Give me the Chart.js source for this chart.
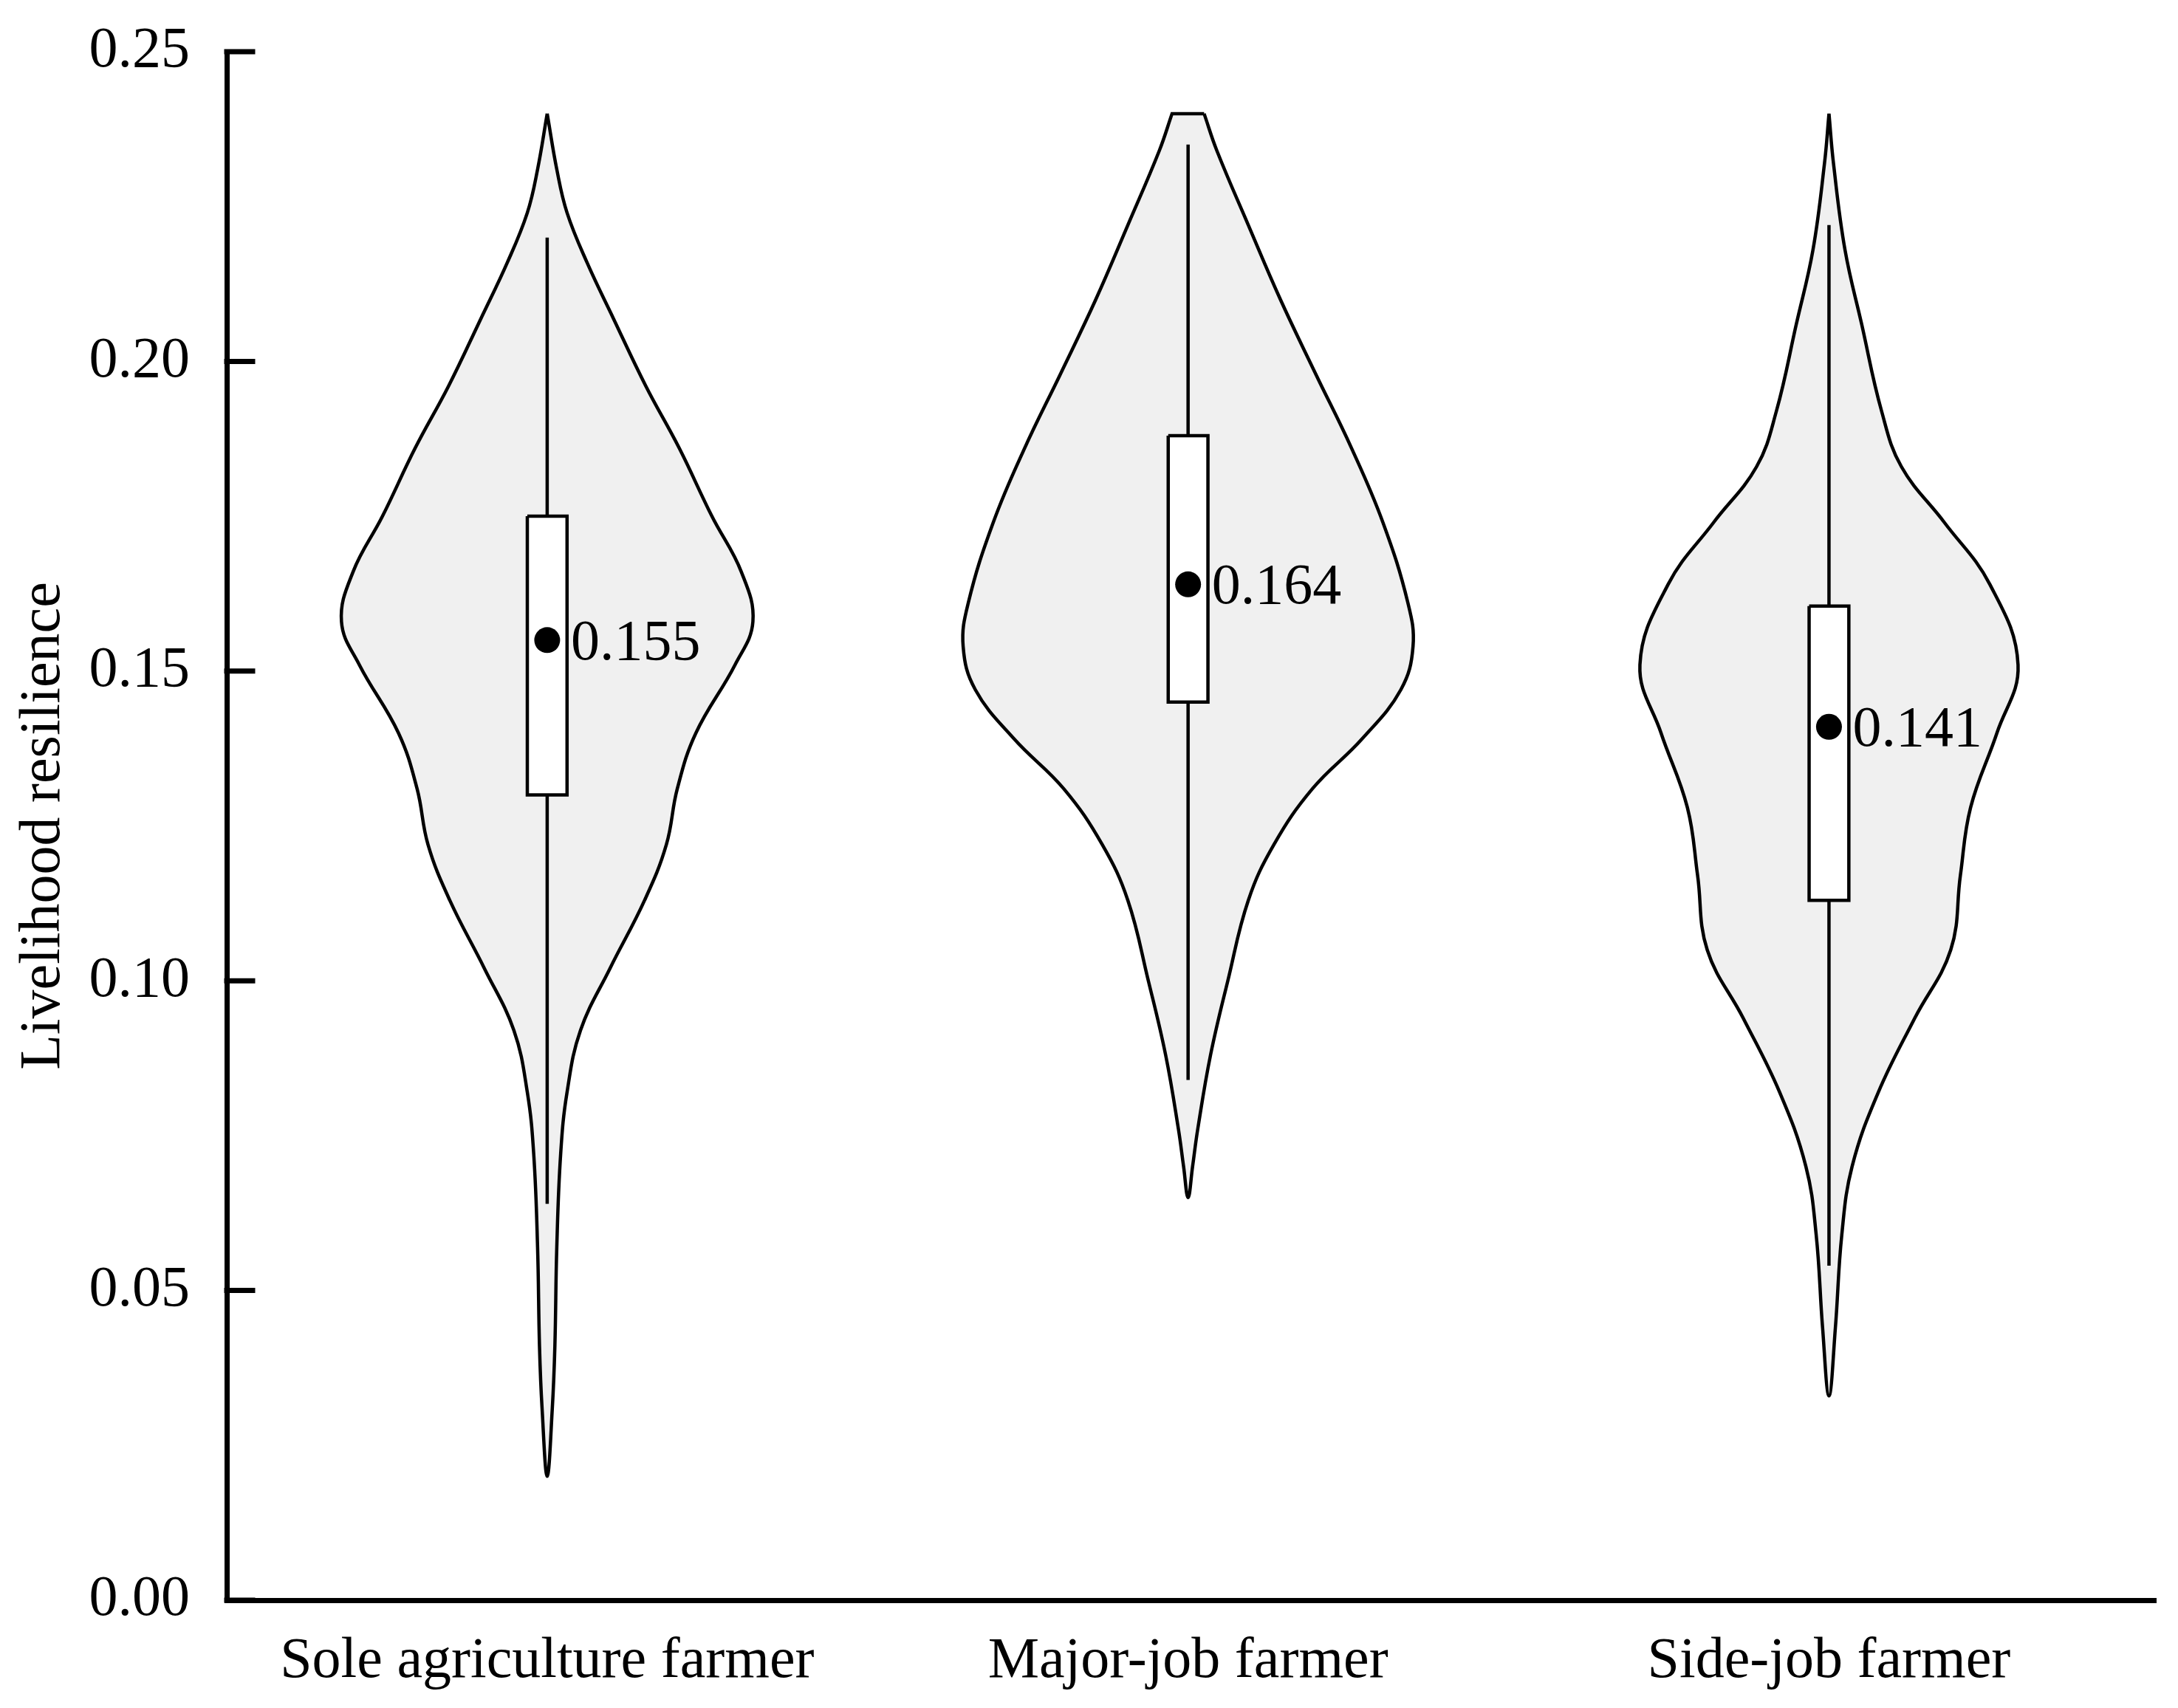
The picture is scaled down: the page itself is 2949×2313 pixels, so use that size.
<!DOCTYPE html>
<html>
<head>
<meta charset="utf-8">
<script src="https://cdn.jsdelivr.net/npm/chart.js@4.4.1/dist/chart.umd.min.js"></script>
<style>
  html, body { margin: 0; padding: 0; background: #fff; }
  #wrap { width: 2949px; height: 2313px; }
</style>
</head>
<body>
<div id="wrap"><canvas id="violin"></canvas></div>
<script>
// groups and box statistics
const categories = ['Sole agriculture farmer', 'Major-job farmer', 'Side-job farmer'];
const medians = [0.155, 0.164, 0.141];
const q1 = [0.130, 0.145, 0.113];
const q3 = [0.175, 0.188, 0.1605];
const whiskerLow = [0.064, 0.084, 0.054];
const whiskerHigh = [0.220, 0.235, 0.222];
const yTicks = [0, 0.05, 0.10, 0.15, 0.20, 0.25];

// violin outlines: value levels and half widths (in category units)
const soleLevels = [0.240, 0.231, 0.224, 0.216, 0.207, 0.196, 0.186, 0.175, 0.166, 0.158, 0.151, 0.140, 0.131, 0.122, 0.113, 0.102, 0.092, 0.082, 0.072, 0.057, 0.041, 0.031, 0.020];
const soleWidths = [0, 0.015, 0.031, 0.062, 0.103, 0.154, 0.206, 0.257, 0.303, 0.321, 0.293, 0.232, 0.203, 0.186, 0.152, 0.098, 0.052, 0.031, 0.021, 0.015, 0.012, 0.008, 0];

const majorLevels = [0.240, 0.234, 0.222, 0.210, 0.198, 0.186, 0.174, 0.161, 0.154, 0.147, 0.139, 0.131, 0.122, 0.113, 0.100, 0.088, 0.076, 0.070, 0.065];
const majorWidths = [0.025, 0.045, 0.094, 0.144, 0.199, 0.255, 0.304, 0.343, 0.351, 0.332, 0.271, 0.194, 0.134, 0.094, 0.062, 0.035, 0.015, 0.007, 0];

const sideLevels = [0.240, 0.232, 0.218, 0.206, 0.192, 0.183, 0.174, 0.164, 0.151, 0.140, 0.128, 0.117, 0.105, 0.094, 0.082, 0.070, 0.059, 0.044, 0.033];
const sideWidths = [0, 0.007, 0.025, 0.051, 0.082, 0.113, 0.180, 0.251, 0.295, 0.262, 0.221, 0.205, 0.190, 0.134, 0.077, 0.036, 0.020, 0.010, 0];

const violins = [
  { levels: soleLevels, widths: soleWidths },
  { levels: majorLevels, widths: majorWidths },
  { levels: sideLevels, widths: sideWidths }
];

const FONT = "'Liberation Serif', 'Times New Roman', serif";
const boxHalf = 0.031;
const labelGap = 0.037;

function outline(center, levels, widths) {
  const pts = [];
  for (let i = 0; i < levels.length; i++) {
    pts.push({ x: center + widths[i], y: levels[i] });
  }
  for (let i = levels.length - 1; i >= 0; i--) {
    if (widths[i] === 0) continue;
    pts.push({ x: center - widths[i], y: levels[i] });
  }
  // flat cut at the top: doubled corner points keep the cap straight
  if (widths[0] > 0) {
    pts.push(pts[pts.length - 1]);
    pts.push(pts[0]);
  }
  pts.push(pts[0]);
  return pts;
}

var datasets = [];

violins.forEach(function(v, i) {
  datasets.push({
    data: outline(i + 1, v.levels, v.widths),
    showLine: true,
    fill: 'shape',
    backgroundColor: '#f0f0f0',
    borderColor: '#000',
    borderWidth: 4.5,
    tension: 0.4,
    pointRadius: 0,
    order: 4
  });
  datasets.push({
    data: [{ x: i + 1, y: whiskerLow[i] }, { x: i + 1, y: whiskerHigh[i] }],
    showLine: true,
    borderColor: '#000',
    borderWidth: 4.5,
    pointRadius: 0,
    order: 3
  });
  datasets.push({
    data: [
      { x: i + 1 - boxHalf, y: q3[i] }, { x: i + 1 + boxHalf, y: q3[i] },
      { x: i + 1 + boxHalf, y: q1[i] }, { x: i + 1 - boxHalf, y: q1[i] },
      { x: i + 1 - boxHalf, y: q3[i] }
    ],
    showLine: true,
    fill: 'shape',
    backgroundColor: '#fff',
    borderColor: '#000',
    borderWidth: 4.5,
    tension: 0,
    pointRadius: 0,
    order: 2
  });
});

datasets.push({
  data: medians.map((m, i) => ({ x: i + 1, y: m })),
  pointRadius: 17.5,
  pointBackgroundColor: '#000',
  pointBorderWidth: 0,
  order: 1
});

// median values next to the dots
const medianLabels = {
  id: 'medianLabels',
  afterDatasetsDraw(chart) {
    const ctx = chart.ctx;
    const x = chart.scales.x, y = chart.scales.y;
    ctx.save();
    ctx.font = '78px ' + FONT;
    ctx.fillStyle = '#000';
    ctx.textAlign = 'left';
    ctx.textBaseline = 'alphabetic';
    medians.forEach(function(m, i) {
      ctx.fillText(m.toFixed(3), x.getPixelForValue(i + 1 + labelGap), y.getPixelForValue(m) + 26);
    });
    ctx.restore();
  }
};

// y ticks pointing into the plot
const innerTicks = {
  id: 'innerTicks',
  afterDraw(chart) {
    const ctx = chart.ctx;
    const y = chart.scales.y;
    const left = chart.chartArea.left - 3.5;
    ctx.save();
    ctx.strokeStyle = '#000';
    ctx.lineWidth = 7;
    yTicks.forEach(function(v) {
      const py = y.getPixelForValue(v);
      ctx.beginPath();
      ctx.moveTo(left, py);
      ctx.lineTo(left + 42, py);
      ctx.stroke();
    });
    ctx.restore();
  }
};

new Chart(document.getElementById('violin'), {
  type: 'scatter',
  data: { datasets: datasets },
  plugins: [medianLabels, innerTicks],
  options: {
    responsive: true,
    maintainAspectRatio: false,
    animation: false,
    layout: { padding: { top: 70, right: 30, left: 0, bottom: 0 } },
    plugins: { legend: { display: false }, tooltip: { enabled: false } },
    scales: {
      x: {
        type: 'linear',
        min: 0.5,
        max: 3.51,
        afterBuildTicks: s => { s.ticks = categories.map((c, i) => ({ value: i + 1 })); },
        afterFit: s => { s.height = 146; s.paddingLeft = 0; s.paddingRight = 0; },
        ticks: {
          color: '#000',
          font: { family: FONT, size: 78 },
          padding: 37,
          maxRotation: 0,
          autoSkip: false,
          callback: (v, i) => categories[i]
        },
        grid: { display: false, drawTicks: false },
        border: { display: true, width: 7, color: '#000' }
      },
      y: {
        min: 0,
        max: 0.25,
        afterBuildTicks: s => { s.ticks = yTicks.map(v => ({ value: v })); },
        afterFit: s => { s.width = 307; s.paddingTop = 0; s.paddingBottom = 0; },
        ticks: {
          color: '#000',
          font: { family: FONT, size: 78 },
          padding: 50,
          callback: v => v.toFixed(2)
        },
        grid: { display: false, drawTicks: false },
        border: { display: true, width: 7, color: '#000' },
        title: {
          display: true,
          text: 'Livelihood resilience',
          color: '#000',
          font: { family: FONT, size: 78 },
          padding: { top: 13, bottom: 0 }
        }
      }
    }
  }
});
</script>
</body>
</html>
